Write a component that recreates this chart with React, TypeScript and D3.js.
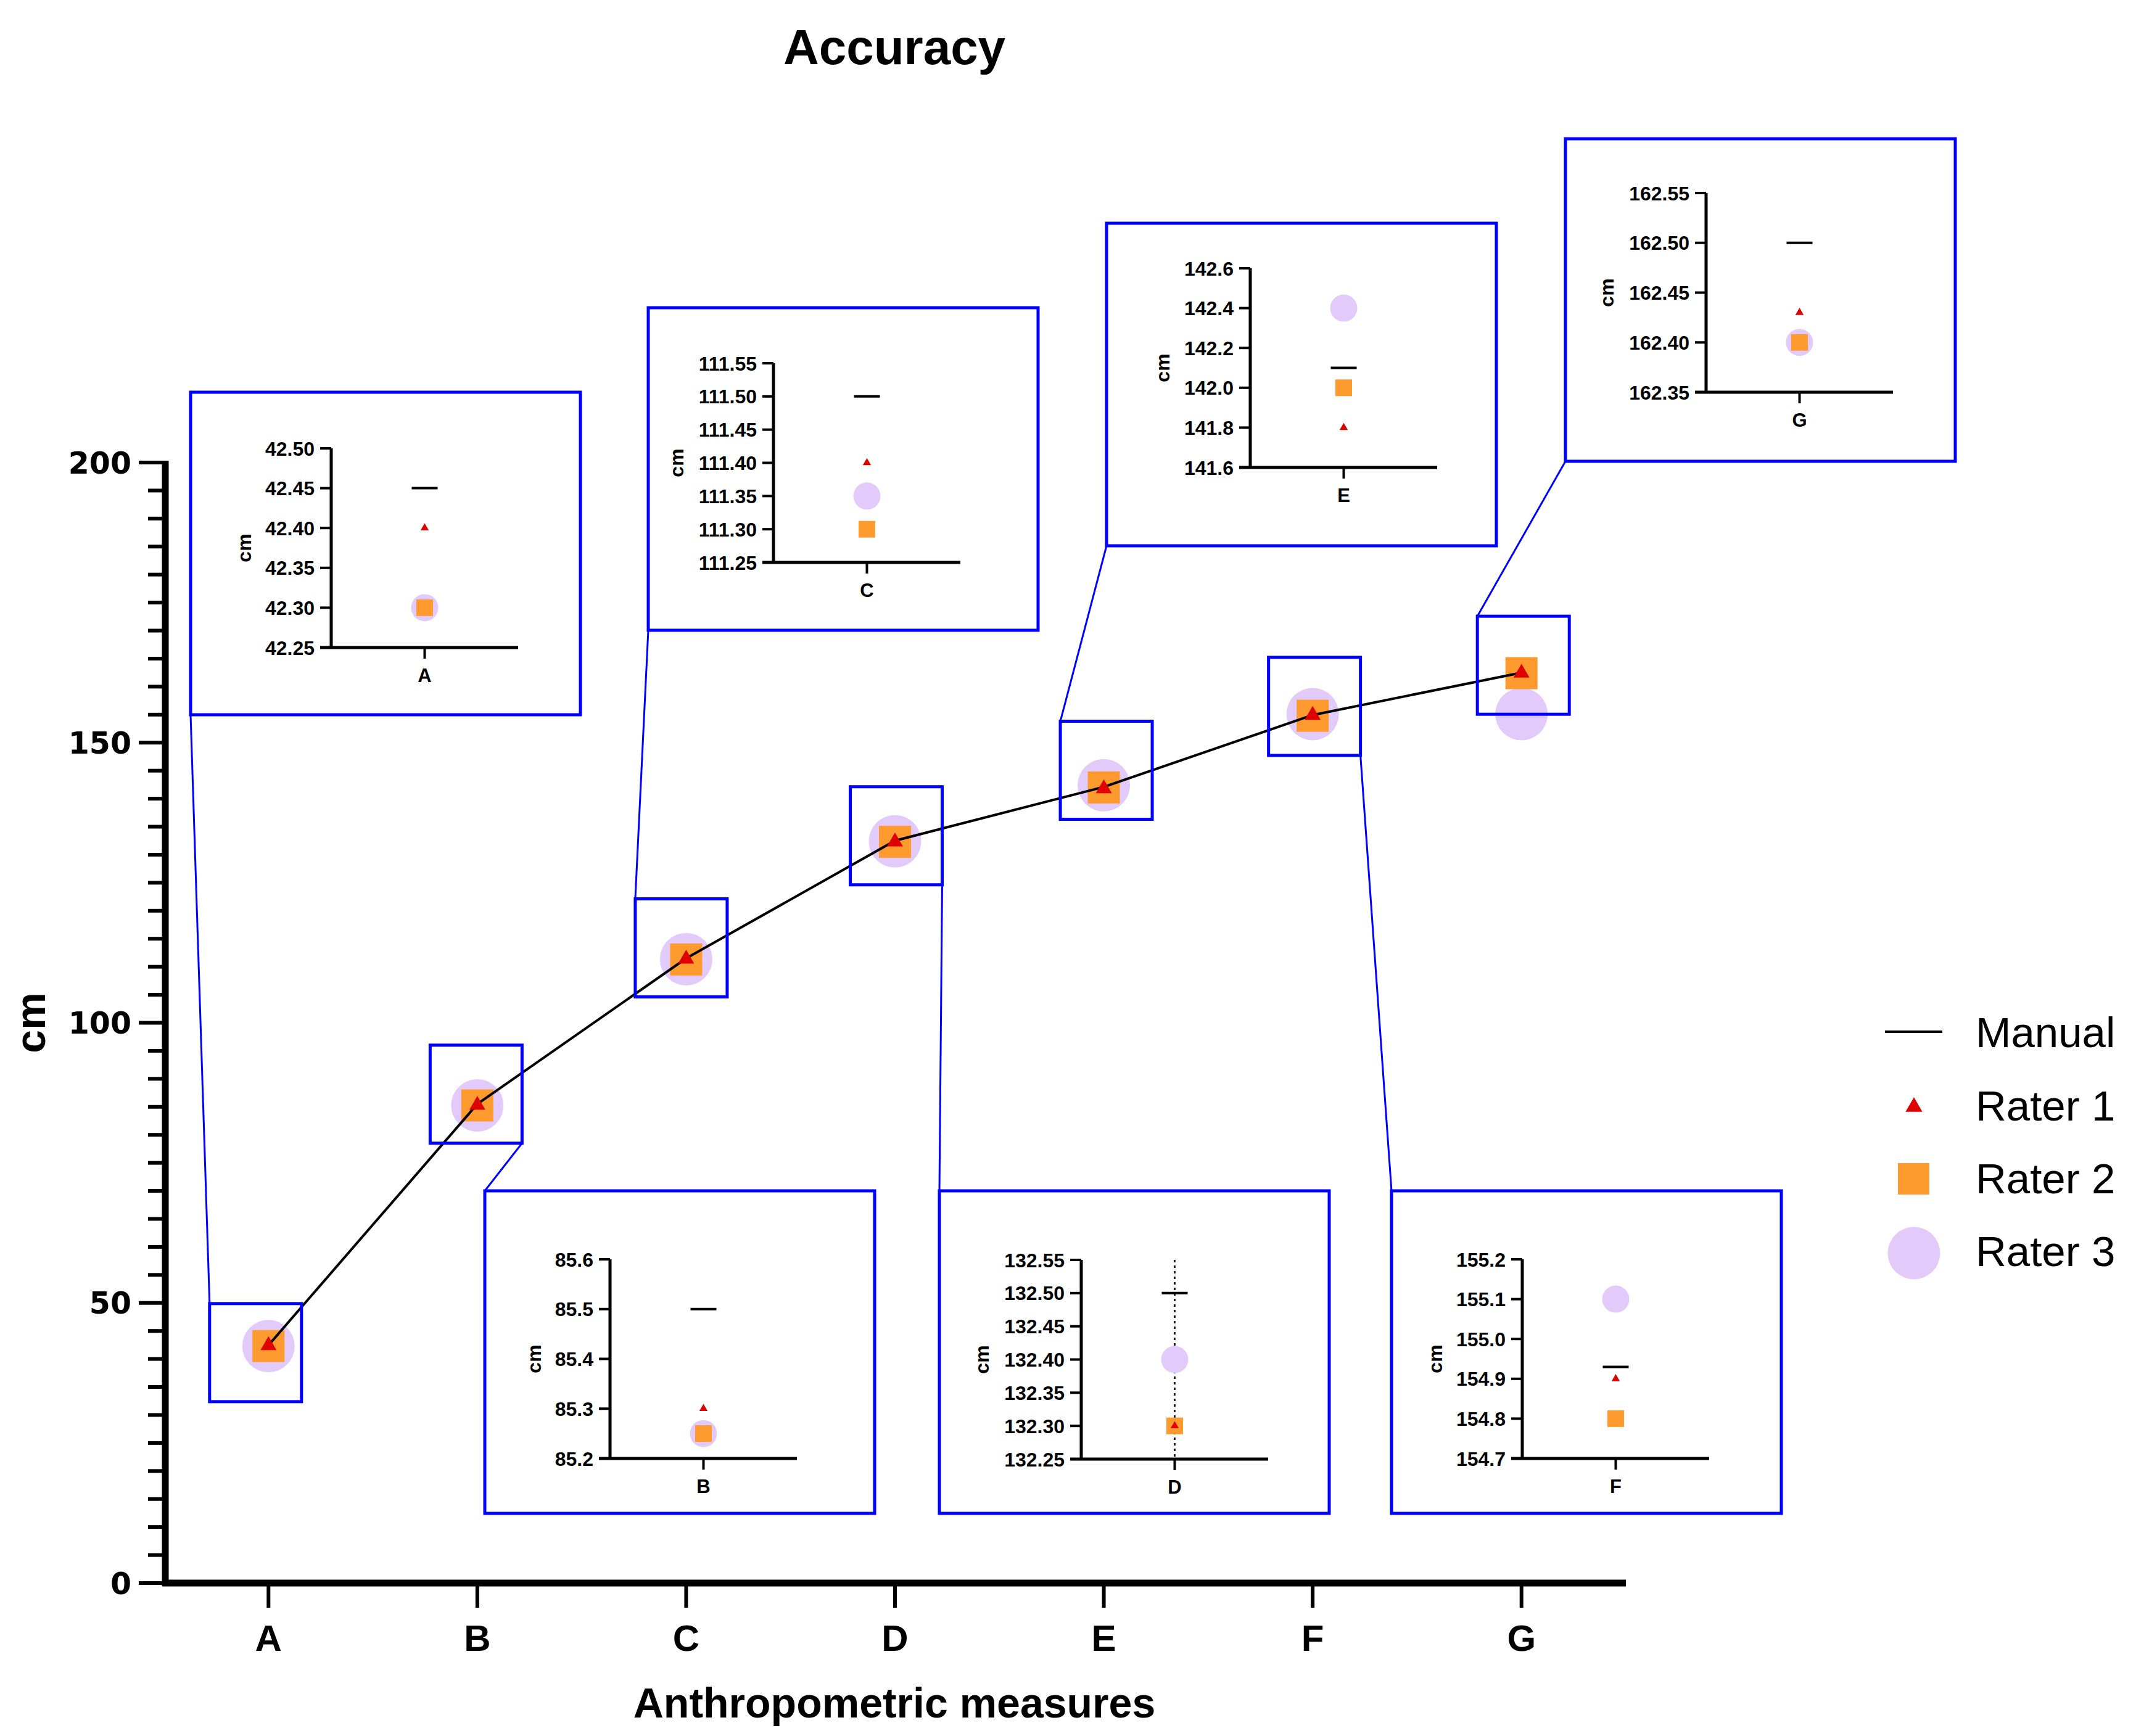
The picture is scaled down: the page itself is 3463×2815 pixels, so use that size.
import React from 'react';
import * as d3 from 'd3';

// categories and measured values (cm)
const categories = ['A', 'B', 'C', 'D', 'E', 'F', 'G'];
const manual = [42.45, 85.5, 111.5, 132.5, 142.1, 154.93, 162.5];
const rater1 = [42.4, 85.3, 111.4, 132.3, 141.8, 154.9, 162.43];
const rater2 = [42.3, 85.25, 111.3, 132.3, 142.0, 154.8, 162.4];
const rater3 = [42.3, 85.25, 111.35, 132.4, 142.4, 155.1, 162.4];
// the overview plot shows Rater 3 at G lower than the zoomed panel
const rater3Main = [42.3, 85.25, 111.35, 132.4, 142.4, 155.1, 155.1];

const mainTicks = [0, 50, 100, 150, 200];

// tick labels of the zoomed panels
const ticksA = ['42.25', '42.30', '42.35', '42.40', '42.45', '42.50'];
const ticksB = ['85.2', '85.3', '85.4', '85.5', '85.6'];
const ticksC = ['111.25', '111.30', '111.35', '111.40', '111.45', '111.50', '111.55'];
const ticksD = ['132.25', '132.30', '132.35', '132.40', '132.45', '132.50', '132.55'];
const ticksE = ['141.6', '141.8', '142.0', '142.2', '142.4', '142.6'];
const ticksF = ['154.7', '154.8', '154.9', '155.0', '155.1', '155.2'];
const ticksG = ['162.35', '162.40', '162.45', '162.50', '162.55'];
const insetTicks = [ticksA, ticksB, ticksC, ticksD, ticksE, ticksF, ticksG];

const W = 3463;
const H = 2815;
const FONT = 'Liberation Sans, Arial, sans-serif';
const BLUE = '#0000ff';
const RED = '#e00000';
const ORANGE = '#ff9a2e';
const LILAC = '#e2cbfa';

// panel placement (box origin, axis offset inside box, small zoom box offset)
const insetLayout = [
  { x: 309, y: 636, axisX: 228, top: 91, cmX: 86, row: 'top', bx: -21, by: 12 },
  { x: 786, y: 1931, axisX: 203, top: 111, cmX: 79, row: 'bottom', bx: -2, by: -16 },
  { x: 1051, y: 499, axisX: 203, top: 90, cmX: 45, row: 'top', bx: -8, by: -17 },
  { x: 1523, y: 1931, axisX: 230, top: 112, cmX: 68, row: 'bottom', bx: 2, by: -8, dotted: true },
  { x: 1794, y: 362, axisX: 233, top: 73, cmX: 90, row: 'top', bx: 4, by: -27 },
  { x: 2256, y: 1931, axisX: 212, top: 111, cmX: 70, row: 'bottom', bx: 3, by: -14 },
  { x: 2538, y: 225, axisX: 228, top: 88, cmX: 66, row: 'top', bx: 3, by: -12 },
];
const BOX_W = 632;
const BOX_H = 523;
const PLOT_W = 303;
const PLOT_H = 323;
const SMALL_W = 149;
const SMALL_H = 159;

const yMain = d3.scaleLinear().domain([0, 200]).range([2567, 750]);
const xMain = d3.scalePoint<string>().domain(categories).range([266, 2636]).padding(0.5);
const AXIS_X = 268;
const AXIS_END = 2636;

const triBig = d3.symbol().type(d3.symbolTriangle).size(290)() as string;
const triSmall = d3.symbol().type(d3.symbolTriangle).size(78)() as string;
const triLegend = d3.symbol().type(d3.symbolTriangle).size(320)() as string;

function Inset({ i }: { i: number }) {
  const L = insetLayout[i];
  const ticks = insetTicks[i];
  const tv = ticks.map(Number);
  const y = d3.scaleLinear().domain([tv[0], tv[tv.length - 1]]).range([L.top + PLOT_H, L.top]);
  const bottom = L.top + PLOT_H;
  const xMid = L.axisX + PLOT_W / 2;
  const sq = 27;
  return (
    <g transform={`translate(${L.x},${L.y})`}>
      <rect x={0} y={0} width={BOX_W} height={BOX_H} fill="#fff" stroke={BLUE} strokeWidth={5} />
      {L.dotted && (
        <line x1={xMid} x2={xMid} y1={L.top} y2={bottom} stroke="#000" strokeWidth={2.5} strokeDasharray="4 5" />
      )}
      <line x1={L.axisX} x2={L.axisX} y1={L.top} y2={bottom} stroke="#000" strokeWidth={5} />
      <line x1={L.axisX - 18} x2={L.axisX + PLOT_W} y1={bottom} y2={bottom} stroke="#000" strokeWidth={5} />
      {ticks.map((t, k) => (
        <g key={t}>
          <line x1={L.axisX - 18} x2={L.axisX} y1={y(tv[k])} y2={y(tv[k])} stroke="#000" strokeWidth={4} />
          <text x={L.axisX - 27} y={y(tv[k])} dy="0.36em" textAnchor="end" fontFamily={FONT} fontWeight="bold" fontSize={32}>
            {t}
          </text>
        </g>
      ))}
      <line x1={xMid} x2={xMid} y1={bottom} y2={bottom + 18} stroke="#000" strokeWidth={4} />
      <text x={xMid} y={bottom + 56} textAnchor="middle" fontFamily={FONT} fontWeight="bold" fontSize={31}>
        {categories[i]}
      </text>
      <text
        transform={`translate(${L.cmX},${L.top + PLOT_H / 2}) rotate(-90)`}
        dy="0.36em"
        textAnchor="middle"
        fontFamily={FONT}
        fontWeight="bold"
        fontSize={32}
      >
        cm
      </text>
      <circle cx={xMid} cy={y(rater3[i])} r={22} fill={LILAC} />
      <rect x={xMid - sq / 2} y={y(rater2[i]) - sq / 2} width={sq} height={sq} fill={ORANGE} />
      <path d={triSmall} transform={`translate(${xMid},${y(rater1[i])})`} fill={RED} />
      <line x1={xMid - 21} x2={xMid + 21} y1={y(manual[i])} y2={y(manual[i])} stroke="#000" strokeWidth={4} />
    </g>
  );
}

export default function App() {
  const minor = yMain.ticks(40);
  const linePath = d3.line()(categories.map((c, i) => [xMain(c) as number, yMain(manual[i])])) as string;

  const smallBoxes = categories.map((c, i) => {
    const L = insetLayout[i];
    const cx = (xMain(c) as number) + L.bx;
    const cy = yMain(manual[i]) + L.by;
    return { x0: cx - SMALL_W / 2, y0: cy - SMALL_H / 2, x1: cx + SMALL_W / 2, y1: cy + SMALL_H / 2 };
  });

  return (
    <svg width={W} height={H} style={{ position: 'absolute', left: 0, top: 0, background: '#fff' }}>
      <rect width={W} height={H} fill="#fff" />
      <text x={1450} y={104} textAnchor="middle" fontFamily={FONT} fontWeight="bold" fontSize={80}>
        Accuracy
      </text>

      {/* y axis */}
      {minor.map((t) => (
        <line
          key={t}
          x1={AXIS_X - (t % 50 === 0 ? 43 : 28)}
          x2={AXIS_X}
          y1={yMain(t)}
          y2={yMain(t)}
          stroke="#000"
          strokeWidth={6}
        />
      ))}
      <line x1={AXIS_X} x2={AXIS_X} y1={yMain(0) + 5} y2={yMain(200) - 3} stroke="#000" strokeWidth={11} />
      {mainTicks.map((t) => (
        <text key={t} x={213} y={yMain(t)} dy="0.36em" textAnchor="end" fontFamily="DejaVu Sans, sans-serif" fontWeight="bold" fontSize={49}>
          {t}
        </text>
      ))}
      <text transform={`translate(49,${(yMain(0) + yMain(200)) / 2}) rotate(-90)`} dy="0.36em" textAnchor="middle" fontFamily={FONT} fontWeight="bold" fontSize={68}>
        cm
      </text>

      {/* x axis */}
      <line x1={AXIS_X - 5} x2={AXIS_END} y1={yMain(0)} y2={yMain(0)} stroke="#000" strokeWidth={11} />
      {categories.map((c) => (
        <g key={c}>
          <line x1={xMain(c)} x2={xMain(c)} y1={yMain(0)} y2={yMain(0) + 40} stroke="#000" strokeWidth={6} />
          <text x={xMain(c)} y={2677} textAnchor="middle" fontFamily={FONT} fontWeight="bold" fontSize={60}>
            {c}
          </text>
        </g>
      ))}
      <text x={1450} y={2785} textAnchor="middle" fontFamily={FONT} fontWeight="bold" fontSize={68}>
        Anthropometric measures
      </text>

      {/* overview markers */}
      {categories.map((c, i) => (
        <circle key={c} cx={xMain(c)} cy={yMain(rater3Main[i])} r={42.5} fill={LILAC} />
      ))}
      {categories.map((c, i) => (
        <rect key={c} x={(xMain(c) as number) - 26} y={yMain(rater2[i]) - 26} width={52} height={52} fill={ORANGE} />
      ))}
      <path d={linePath} fill="none" stroke="#000" strokeWidth={4} />
      {categories.map((c, i) => (
        <path key={c} d={triBig} transform={`translate(${xMain(c)},${yMain(rater1[i])})`} fill={RED} />
      ))}

      {/* zoom windows and leader lines */}
      {smallBoxes.map((b, i) => {
        const L = insetLayout[i];
        const lead =
          L.row === 'top'
            ? { x1: L.x, y1: L.y + BOX_H, x2: b.x0, y2: b.y0 }
            : { x1: b.x1, y1: b.y1, x2: L.x, y2: L.y };
        return (
          <g key={i}>
            <rect x={b.x0} y={b.y0} width={SMALL_W} height={SMALL_H} fill="none" stroke={BLUE} strokeWidth={5} />
            <line {...lead} stroke={BLUE} strokeWidth={3} />
          </g>
        );
      })}
      {categories.map((c, i) => (
        <Inset key={c} i={i} />
      ))}

      {/* legend */}
      <line x1={3056} x2={3149} y1={1673} y2={1673} stroke="#000" strokeWidth={4} />
      <path d={triLegend} transform="translate(3103,1795)" fill={RED} />
      <rect x={3077} y={1886} width={51} height={51} fill={ORANGE} />
      <circle cx={3103} cy={2032} r={42.5} fill={LILAC} />
      {['Manual', 'Rater 1', 'Rater 2', 'Rater 3'].map((t, k) => (
        <text key={t} x={3203} y={[1698, 1817, 1935, 2053][k]} fontFamily={FONT} fontSize={69}>
          {t}
        </text>
      ))}
    </svg>
  );
}
